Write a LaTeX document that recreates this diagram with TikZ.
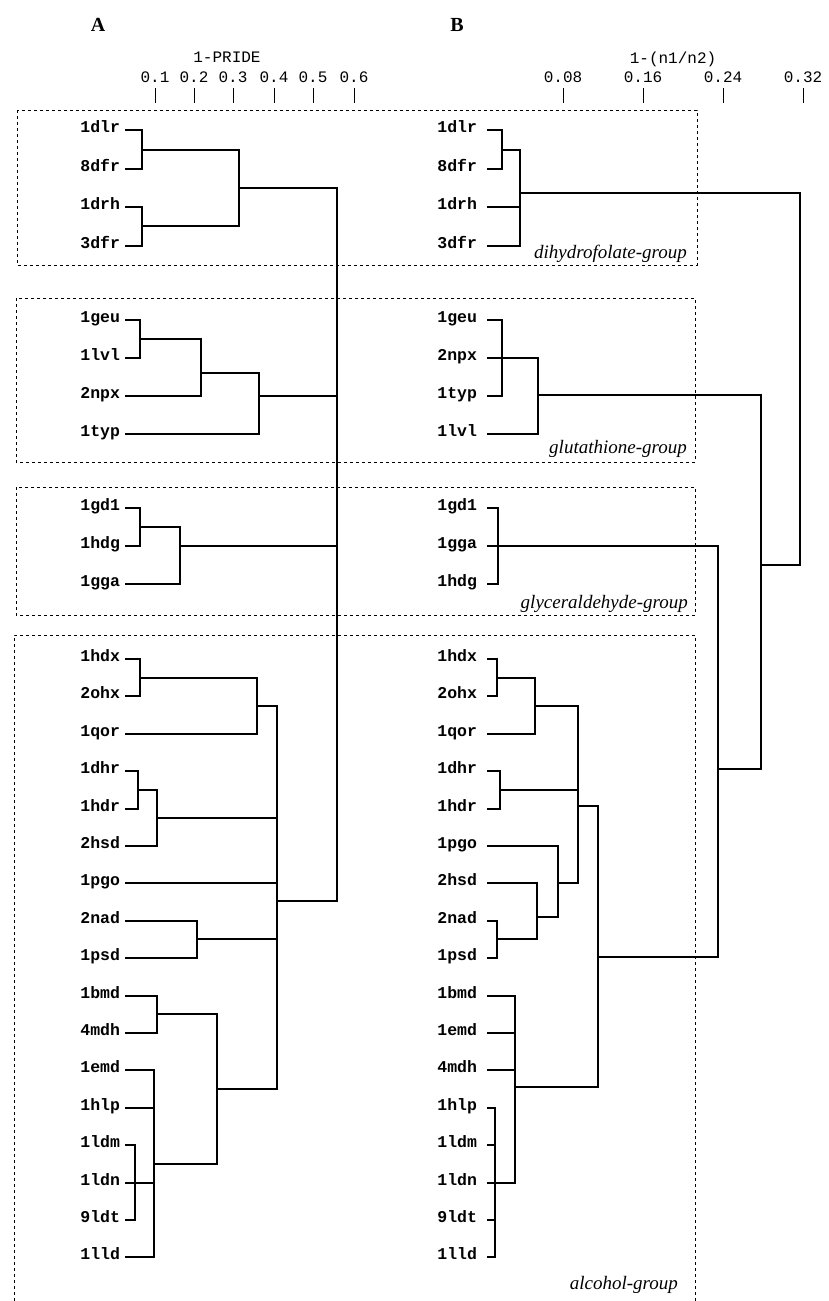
\documentclass[tikz,border=0pt]{standalone}
\usepackage{fontspec}
\setmainfont{Liberation Serif}
\setmonofont{Liberation Mono}
\begin{document}
\begin{tikzpicture}[x=1pt,y=-1pt,
  leafA/.style={font=\ttfamily\bfseries\fontsize{16.5}{18}\selectfont,inner sep=0pt,outer xsep=5pt,anchor=mid east},
  leafB/.style={font=\ttfamily\bfseries\fontsize{16.5}{18}\selectfont,inner sep=0pt,outer xsep=10pt,anchor=mid east},
  axislbl/.style={font=\ttfamily\fontsize{16}{18}\selectfont,inner sep=0pt},
  panel/.style={font=\bfseries\fontsize{20}{22}\selectfont,inner sep=0pt},
  grouplbl/.style={font=\itshape\fontsize{19}{21}\selectfont,inner sep=0pt,anchor=base east},
  br/.style={line width=1.4pt},
  tickline/.style={line width=1pt},
  grp/.style={line width=0.6pt,dash pattern=on 3pt off 3pt}]
\useasboundingbox (0,0) rectangle (829,1301);

% panel letters and axes
\node[panel] (pA) at (98,25) {A};
\node[panel] (pB) at (457,25) {B};
\node[axislbl] (tA) at (227,57) {1-PRIDE};
\node[axislbl] (tB) at (673,59) {1-(n1/n2)};
\foreach \x/\l in {155/0.1,194/0.2,233/0.3,274/0.4,313/0.5,354/0.6,563/0.08,643/0.16,723/0.24,803/0.32}{
  \node[axislbl] at (\x,77) {\l};
  \draw[tickline] (\x,88) -- (\x,103);
}

% group boxes
\draw[grp] (17,110) rectangle (697,265);
\draw[grp] (16,298) rectangle (695,462);
\draw[grp] (16,487) rectangle (695,615);
\draw[grp] (14,1301) -- (14,635) -- (695,635) -- (695,1301);
\node[grouplbl] (gD) at (687,258) {dihydrofolate-group};
\node[grouplbl] (gG) at (687,453) {glutathione-group};
\node[grouplbl] (gY) at (688,608) {glyceraldehyde-group};
\node[grouplbl] (gA) at (678,1289) {alcohol-group};

% ---------------- Panel A leaves ----------------
\node[leafA] (A-1dlr) at (125,130) {1dlr};
\node[leafA] (A-8dfr) at (125,169) {8dfr};
\node[leafA] (A-1drh) at (125,207) {1drh};
\node[leafA] (A-3dfr) at (125,246) {3dfr};
\node[leafA] (A-1geu) at (125,320) {1geu};
\node[leafA] (A-1lvl) at (125,358) {1lvl};
\node[leafA] (A-2npx) at (125,396) {2npx};
\node[leafA] (A-1typ) at (125,434) {1typ};
\node[leafA] (A-1gd1) at (125,508) {1gd1};
\node[leafA] (A-1hdg) at (125,546) {1hdg};
\node[leafA] (A-1gga) at (125,584) {1gga};
\node[leafA] (A-1hdx) at (125,659) {1hdx};
\node[leafA] (A-2ohx) at (125,696) {2ohx};
\node[leafA] (A-1qor) at (125,734) {1qor};
\node[leafA] (A-1dhr) at (125,771) {1dhr};
\node[leafA] (A-1hdr) at (125,809) {1hdr};
\node[leafA] (A-2hsd) at (125,846) {2hsd};
\node[leafA] (A-1pgo) at (125,883) {1pgo};
\node[leafA] (A-2nad) at (125,921) {2nad};
\node[leafA] (A-1psd) at (125,958) {1psd};
\node[leafA] (A-1bmd) at (125,996) {1bmd};
\node[leafA] (A-4mdh) at (125,1033) {4mdh};
\node[leafA] (A-1emd) at (125,1070) {1emd};
\node[leafA] (A-1hlp) at (125,1108) {1hlp};
\node[leafA] (A-1ldm) at (125,1145) {1ldm};
\node[leafA] (A-1ldn) at (125,1183) {1ldn};
\node[leafA] (A-9ldt) at (125,1220) {9ldt};
\node[leafA] (A-1lld) at (125,1257) {1lld};

% Panel A junctions
\coordinate (aD1) at (142,150);
\coordinate (aD2) at (142,226);
\coordinate (aD) at (239,188);
\coordinate (aG1) at (140,339);
\coordinate (aG2) at (201,373);
\coordinate (aG) at (259,396);
\coordinate (aY1) at (140,527);
\coordinate (aY) at (180,546);
\coordinate (aA1) at (140,678);
\coordinate (aA2) at (257,706);
\coordinate (aA3) at (138,790);
\coordinate (aA4) at (157,818);
\coordinate (aA5) at (197,939);
\coordinate (aA6) at (135,1183);
\coordinate (aA7) at (154,1164);
\coordinate (aA8) at (157,1014);
\coordinate (aA9) at (217,1089);
\coordinate (aA) at (277,901);
\coordinate (aR) at (337,540);

\draw[br] (A-1dlr.mid east) -| (aD1); \draw[br] (A-8dfr.mid east) -| (aD1);
\draw[br] (A-1drh.mid east) -| (aD2); \draw[br] (A-3dfr.mid east) -| (aD2);
\draw[br] (aD1) -| (aD); \draw[br] (aD2) -| (aD);
\draw[br] (A-1geu.mid east) -| (aG1); \draw[br] (A-1lvl.mid east) -| (aG1);
\draw[br] (aG1) -| (aG2); \draw[br] (A-2npx.mid east) -| (aG2);
\draw[br] (aG2) -| (aG); \draw[br] (A-1typ.mid east) -| (aG);
\draw[br] (A-1gd1.mid east) -| (aY1); \draw[br] (A-1hdg.mid east) -| (aY1);
\draw[br] (aY1) -| (aY); \draw[br] (A-1gga.mid east) -| (aY);
\draw[br] (A-1hdx.mid east) -| (aA1); \draw[br] (A-2ohx.mid east) -| (aA1);
\draw[br] (aA1) -| (aA2); \draw[br] (A-1qor.mid east) -| (aA2);
\draw[br] (A-1dhr.mid east) -| (aA3); \draw[br] (A-1hdr.mid east) -| (aA3);
\draw[br] (aA3) -| (aA4); \draw[br] (A-2hsd.mid east) -| (aA4);
\draw[br] (A-2nad.mid east) -| (aA5); \draw[br] (A-1psd.mid east) -| (aA5);
\draw[br] (A-1bmd.mid east) -| (aA8); \draw[br] (A-4mdh.mid east) -| (aA8);
\draw[br] (A-1ldm.mid east) -| (aA6); \draw[br] (A-9ldt.mid east) -| (aA6);
\draw[br] (A-1emd.mid east) -| (aA7); \draw[br] (A-1hlp.mid east) -| (aA7);
\draw[br] (A-1ldn.mid east) -| (aA7); \draw[br] (A-1lld.mid east) -| (aA7);
\draw[br] (aA8) -| (aA9); \draw[br] (aA7) -| (aA9);
\draw[br] (aA2) -| (aA); \draw[br] (aA4) -| (aA); \draw[br] (A-1pgo.mid east) -| (aA);
\draw[br] (aA5) -| (aA); \draw[br] (aA9) -| (aA);
\draw[br] (aD) -| (aR); \draw[br] (aG) -| (aR); \draw[br] (aY) -| (aR); \draw[br] (aA) -| (aR);

% ---------------- Panel B leaves ----------------
\node[leafB] (B-1dlr) at (487,130) {1dlr};
\node[leafB] (B-8dfr) at (487,169) {8dfr};
\node[leafB] (B-1drh) at (487,207) {1drh};
\node[leafB] (B-3dfr) at (487,246) {3dfr};
\node[leafB] (B-1geu) at (487,320) {1geu};
\node[leafB] (B-2npx) at (487,358) {2npx};
\node[leafB] (B-1typ) at (487,396) {1typ};
\node[leafB] (B-1lvl) at (487,434) {1lvl};
\node[leafB] (B-1gd1) at (487,508) {1gd1};
\node[leafB] (B-1gga) at (487,546) {1gga};
\node[leafB] (B-1hdg) at (487,584) {1hdg};
\node[leafB] (B-1hdx) at (487,659) {1hdx};
\node[leafB] (B-2ohx) at (487,696) {2ohx};
\node[leafB] (B-1qor) at (487,734) {1qor};
\node[leafB] (B-1dhr) at (487,771) {1dhr};
\node[leafB] (B-1hdr) at (487,809) {1hdr};
\node[leafB] (B-1pgo) at (487,846) {1pgo};
\node[leafB] (B-2hsd) at (487,883) {2hsd};
\node[leafB] (B-2nad) at (487,921) {2nad};
\node[leafB] (B-1psd) at (487,958) {1psd};
\node[leafB] (B-1bmd) at (487,996) {1bmd};
\node[leafB] (B-1emd) at (487,1033) {1emd};
\node[leafB] (B-4mdh) at (487,1070) {4mdh};
\node[leafB] (B-1hlp) at (487,1108) {1hlp};
\node[leafB] (B-1ldm) at (487,1145) {1ldm};
\node[leafB] (B-1ldn) at (487,1183) {1ldn};
\node[leafB] (B-9ldt) at (487,1220) {9ldt};
\node[leafB] (B-1lld) at (487,1257) {1lld};

% Panel B junctions
\coordinate (bD1) at (502,150);
\coordinate (bD) at (520,193);
\coordinate (bG1) at (502,358);
\coordinate (bG) at (538,395);
\coordinate (bY1) at (498,546);
\coordinate (bA1) at (497,678);
\coordinate (bA2) at (535,706);
\coordinate (bA3) at (500,790);
\coordinate (bA4) at (497,939);
\coordinate (bA5) at (537,917);
\coordinate (bA6) at (558,883);
\coordinate (bA7) at (578,806);
\coordinate (bA8) at (495,1183);
\coordinate (bA9) at (515,1087);
\coordinate (bA) at (598,957);
\coordinate (bYA) at (718,769);
\coordinate (bGYA) at (761,565);
\coordinate (bR) at (800,380);

\draw[br] (B-1dlr.mid east) -| (bD1); \draw[br] (B-8dfr.mid east) -| (bD1);
\draw[br] (bD1) -| (bD); \draw[br] (B-1drh.mid east) -| (bD); \draw[br] (B-3dfr.mid east) -| (bD);
\draw[br] (B-1geu.mid east) -| (bG1); \draw[br] (B-1typ.mid east) -| (bG1);
\draw[br] (B-2npx.mid east) -| (bG); \draw[br] (B-1lvl.mid east) -| (bG);
\draw[br] (B-1gd1.mid east) -| (bY1); \draw[br] (B-1hdg.mid east) -| (bY1);
\draw[br] (B-1hdx.mid east) -| (bA1); \draw[br] (B-2ohx.mid east) -| (bA1);
\draw[br] (bA1) -| (bA2); \draw[br] (B-1qor.mid east) -| (bA2);
\draw[br] (B-1dhr.mid east) -| (bA3); \draw[br] (B-1hdr.mid east) -| (bA3);
\draw[br] (B-2nad.mid east) -| (bA4); \draw[br] (B-1psd.mid east) -| (bA4);
\draw[br] (B-2hsd.mid east) -| (bA5); \draw[br] (bA4) -| (bA5);
\draw[br] (B-1pgo.mid east) -| (bA6); \draw[br] (bA5) -| (bA6);
\draw[br] (bA2) -| (bA7); \draw[br] (bA3) -| (bA7); \draw[br] (bA6) -| (bA7);
\draw[br] (B-1hlp.mid east) -| (bA8); \draw[br] (B-1ldm.mid east) -| (bA8);
\draw[br] (B-9ldt.mid east) -| (bA8); \draw[br] (B-1lld.mid east) -| (bA8);
\draw[br] (B-1bmd.mid east) -| (bA9); \draw[br] (B-1emd.mid east) -| (bA9);
\draw[br] (B-4mdh.mid east) -| (bA9); \draw[br] (B-1ldn.mid east) -| (bA9);
\draw[br] (bA7) -| (bA); \draw[br] (bA9) -| (bA);
\draw[br] (B-1gga.mid east) -| (bYA); \draw[br] (bA) -| (bYA);
\draw[br] (bG) -| (bGYA); \draw[br] (bYA) -| (bGYA);
\draw[br] (bD) -| (bR); \draw[br] (bGYA) -| (bR);
\end{tikzpicture}
\end{document}
